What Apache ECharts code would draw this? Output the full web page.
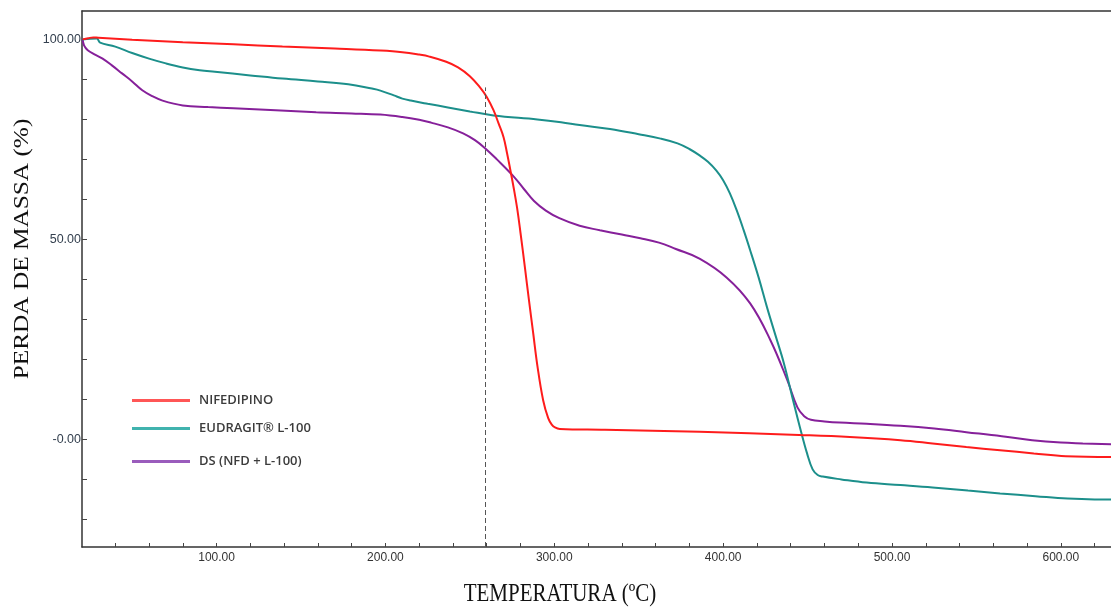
<!DOCTYPE html>
<html>
<head>
<meta charset="utf-8">
<title>Curvas TGA</title>
<script src="https://cdn.jsdelivr.net/npm/echarts@6/dist/echarts.min.js"></script>
<style>
  html, body { margin: 0; padding: 0; background: #fff; }
  #chart { width: 1111px; height: 607px; }
</style>
</head>
<body>
<div id="chart"></div>
<script>
// Mass-loss curves: [temperature (ºC), mass (%)]
const nifedipino = [
  [20.7, 100], [24, 100.3], [27, 100.5], [30, 100.4], [50, 99.9], [80, 99.3],
  [110, 98.8], [139, 98.2], [170, 97.7], [197, 97.2], [210, 96.8], [220, 96.2],
  [226, 95.7], [236, 94.4], [243, 93], [250, 90.8], [256, 88], [260, 85.6],
  [264, 82.3], [267, 79], [270, 75.5], [272, 71.6], [274, 67.3], [276, 62.8],
  [278, 57.8], [280, 51.6], [282.6, 43], [285, 34.8], [287.5, 26.6], [290, 18.4],
  [293.4, 9.8], [296.4, 5.3], [298.5, 3.7], [300.4, 3], [303.3, 2.6], [330, 2.4],
  [386, 1.9], [445, 1.1], [475, 0.6], [505, -0.2], [524, -1], [544, -1.9],
  [564, -2.7], [584, -3.5], [603, -4.2], [630, -4.4]
];
const eudragit = [
  [20.7, 100], [29, 100.2], [31, 99.2], [40, 98.2], [50, 96.6], [60, 95.2],
  [70, 94], [80, 93], [90, 92.3], [99, 91.9], [120, 91], [139, 90.2], [160, 89.5],
  [178, 88.8], [192, 87.7], [197, 87.2], [205, 86], [210, 85.2], [215, 84.7],
  [225, 83.9], [237, 83], [250, 82], [264, 81], [290, 80], [304, 79.3], [315, 78.6],
  [333, 77.6], [350, 76.3], [363, 75.2], [373, 74], [380, 72.6], [386, 71],
  [391, 69.4], [396, 67.2], [400, 64.8], [404, 61.5], [408, 57.3], [412, 52.5],
  [416, 47.3], [421, 40.5], [426, 33], [431, 26], [436, 19], [441, 10.5],
  [445.5, 3], [449.7, -3.5], [453, -7.5], [456, -8.9], [459, -9.3], [470, -10],
  [485, -10.8], [505, -11.4], [524, -12], [545, -12.8], [564, -13.5], [585, -14.2],
  [604, -14.8], [620, -15], [630, -15]
];
const dsNfdL100 = [
  [20.7, 100], [21.5, 98.5], [23.7, 97.3], [28, 96.2], [32.5, 95.2], [38, 93.5],
  [44, 91.5], [50, 89.5], [56, 87.3], [62, 85.8], [68, 84.7], [80, 83.5],
  [95, 83.1], [110, 82.8], [135, 82.3], [159, 81.8], [180, 81.5], [197, 81.2],
  [210, 80.6], [220, 79.9], [227, 79.2], [237, 78], [246, 76.5], [253, 74.8],
  [259, 72.8], [266, 70], [276, 65.7], [282, 62.6], [288, 59.6], [295, 57.2],
  [303, 55.3], [315, 53.4], [327, 52.3], [340, 51.2], [351, 50.3], [362, 49.2],
  [372, 47.6], [386, 45.2], [402, 40.5], [416, 34], [428, 24.8], [438, 14.8],
  [444, 8], [448, 5.8], [452, 4.9], [460, 4.5], [469, 4.2], [485, 3.9], [505, 3.4],
  [525, 2.7], [544, 1.8], [565, 0.8], [583, -0.2], [600, -0.8], [613, -1], [630, -1.2]
];

const seriesNames = ['NIFEDIPINO', 'EUDRAGIT® L-100', 'DS (NFD + L-100)'];
const seriesColors = ['#fe1c1c', '#1c8f8b', '#86209a'];
const legendColors = ['#ff5656', '#40b3ae', '#9a5cbc'];

const xTickValues = [40, 60, 80, 100, 120, 140, 160, 180, 200, 220, 240, 260, 280, 300,
  320, 340, 360, 380, 400, 420, 440, 460, 480, 500, 520, 540, 560, 580, 600, 620];
const xLabelValues = [100, 200, 300, 400, 500, 600];
const yTickValues = [-20, -10, 0, 10, 20, 30, 40, 50, 60, 70, 80, 90, 100];
const yLabelValues = [0, 50, 100];

// Reference temperature marked with the dashed line
const markTemp = 259;
const markTop = 88;

const X_MIN = 20.3, X_MAX = 629.7;
const Y_MIN = -26.9, Y_MAX = 107.1;

const chart = echarts.init(document.getElementById('chart'), null, { renderer: 'canvas' });

const fmt = v => (v === 0 ? '-0.00' : v.toFixed(2));

const legendTops = [403, 431, 464];

chart.setOption({
  animation: false,
  backgroundColor: '#fff',
  grid: { left: 82, top: 11, right: 0, height: 536 },
  legend: seriesNames.map((name, i) => ({
    data: [{ name: name, itemStyle: { color: legendColors[i] } }],
    left: 132,
    top: legendTops[i] - 9,
    padding: 0,
    icon: 'rect',
    itemWidth: 58,
    itemHeight: 3,
    selectedMode: false,
    textStyle: {
      fontFamily: 'Open Sans',
      fontSize: 13,
      fontWeight: 600,
      color: '#3c3c3c',
      padding: [2, 0, 0, 4]
    }
  })),
  xAxis: [
    {
      type: 'value',
      min: X_MIN,
      max: X_MAX,
      position: 'bottom',
      splitLine: { show: false },
      axisLine: { show: true, onZero: false, lineStyle: { color: '#333', width: 1.5 } },
      axisTick: {
        show: true, inside: true, length: 4,
        customValues: xTickValues,
        lineStyle: { color: '#444', width: 1 }
      },
      axisLabel: {
        customValues: xLabelValues,
        formatter: fmt,
        margin: 5,
        fontFamily: 'Liberation Sans',
        fontSize: 12,
        color: '#333'
      }
    },
    {
      type: 'value',
      min: X_MIN,
      max: X_MAX,
      position: 'top',
      splitLine: { show: false },
      axisLine: { show: true, onZero: false, lineStyle: { color: '#333', width: 1.5 } },
      axisTick: { show: false },
      axisLabel: { show: false }
    }
  ],
  yAxis: {
    type: 'value',
    min: Y_MIN,
    max: Y_MAX,
    splitLine: { show: false },
    axisLine: { show: true, onZero: false, lineStyle: { color: '#333', width: 1.5 } },
    axisTick: {
      show: true, inside: true, length: 5,
      customValues: yTickValues,
      lineStyle: { color: '#444', width: 1 }
    },
    axisLabel: {
      customValues: yLabelValues,
      formatter: fmt,
      margin: 1,
      fontFamily: 'Liberation Sans',
      fontSize: 12.5,
      color: '#34404f'
    }
  },
  series: [nifedipino, eudragit, dsNfdL100].map((data, i) => ({
    name: seriesNames[i],
    type: 'line',
    data: data,
    xAxisIndex: 0,
    showSymbol: false,
    symbol: 'none',
    smooth: 0.4,
    lineStyle: { color: seriesColors[i], width: 2 },
    itemStyle: { color: seriesColors[i] },
    z: 3 - i,
    markLine: i === 0 ? {
      silent: true,
      symbol: 'none',
      label: { show: false },
      lineStyle: { color: '#555', type: [5, 3], width: 1 },
      data: [[{ coord: [markTemp, Y_MIN] }, { coord: [markTemp, markTop] }]]
    } : undefined
  })),
  graphic: [
    {
      type: 'text',
      x: 22, y: 249,
      rotation: Math.PI / 2,
      scaleX: 1.15,
      style: {
        text: 'PERDA DE MASSA (%)',
        fontFamily: 'Liberation Serif',
        fontSize: 22,
        fill: '#111',
        align: 'center',
        verticalAlign: 'middle'
      }
    },
    {
      type: 'text',
      x: 560, y: 595,
      scaleY: 1.15,
      style: {
        text: 'TEMPERATURA (ºC)',
        fontFamily: 'Liberation Serif',
        fontSize: 21,
        fill: '#111',
        align: 'center',
        verticalAlign: 'middle'
      }
    }
  ]
});
</script>
</body>
</html>
